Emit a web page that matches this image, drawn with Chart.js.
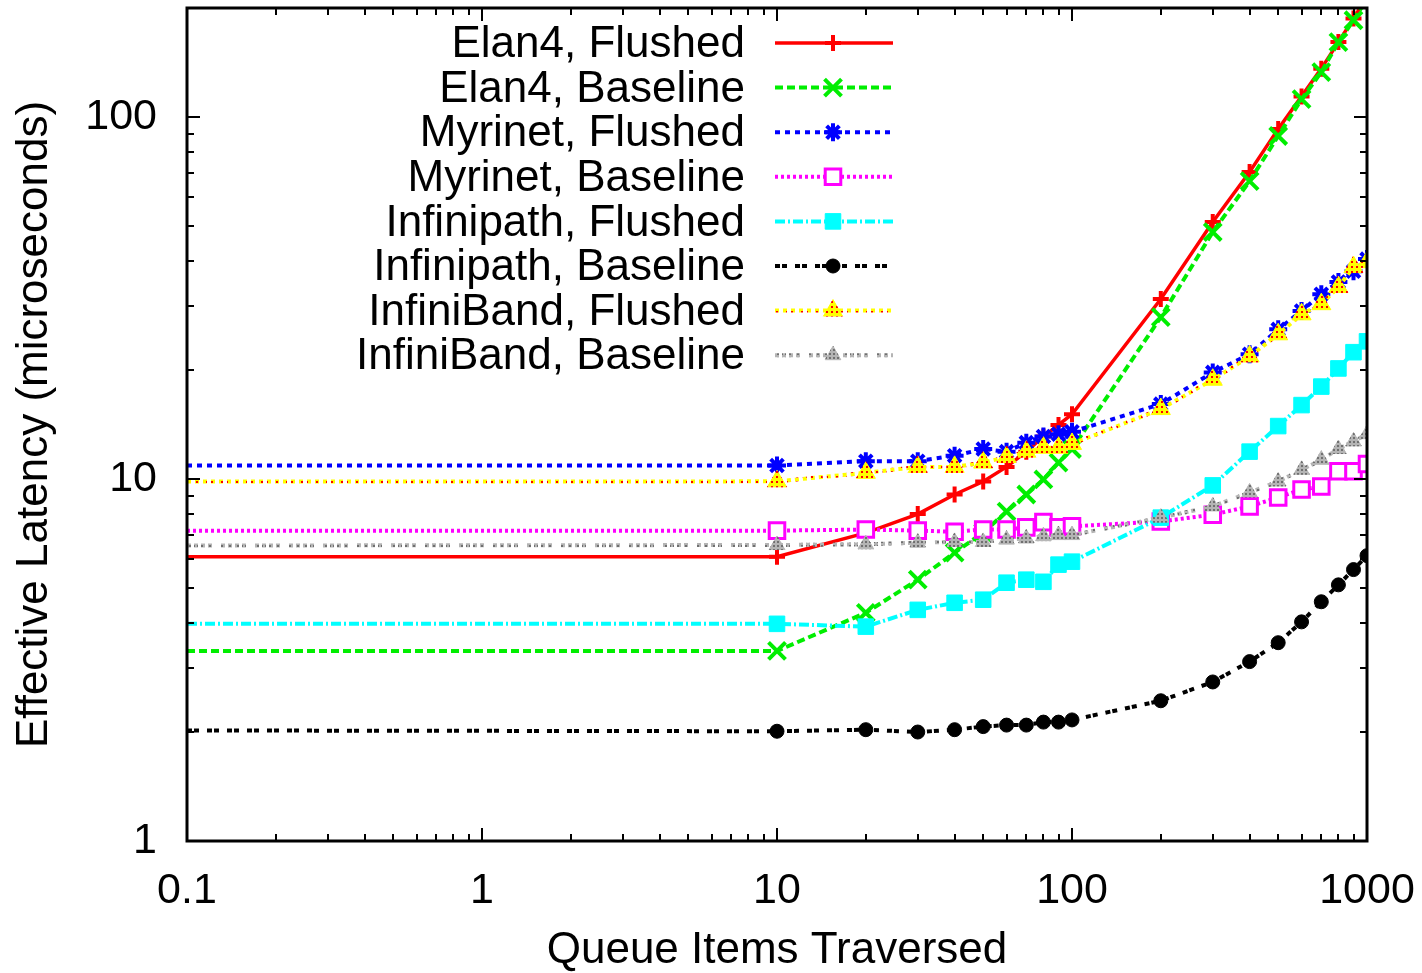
<!DOCTYPE html>
<html>
<head>
<meta charset="utf-8">
<script src="https://cdn.jsdelivr.net/npm/chart.js@4.4.1/dist/chart.umd.min.js"></script>
<style>
  html, body { margin: 0; padding: 0; background: #fff; }
</style>
</head>
<body>
<canvas id="chart" width="1422" height="973"></canvas>
<script>
// queue lengths; the first entry only carries the flat line to the left edge
const queueItems = [0.1, 10, 20, 30, 40, 50, 60, 70, 80, 90, 100, 200, 300, 400, 500, 600, 700, 800, 900, 1000];

const elan4Flushed       = [6.1, 6.1, 7.1, 8.0, 9.06, 9.84, 10.8, 11.9, 13.1, 14.1, 15.1, 31.4, 51.3, 70.5, 92.7, 114, 136, 161, 187, 215];
const elan4Baseline      = [3.35, 3.35, 4.27, 5.27, 6.26, 7.11, 8.13, 9.06, 9.97, 11.1, 12.1, 28.0, 48.1, 66.5, 88.6, 112, 133, 161, 185, 212];
const myrinetFlushed     = [10.9, 10.9, 11.2, 11.2, 11.6, 12.1, 11.9, 12.6, 13.1, 13.3, 13.5, 16.1, 19.7, 22.1, 25.9, 29.1, 32.4, 35.0, 37.5, 40.5];
const myrinetBaseline    = [7.2, 7.2, 7.25, 7.2, 7.15, 7.25, 7.25, 7.35, 7.6, 7.35, 7.4, 7.63, 7.97, 8.4, 8.89, 9.35, 9.53, 10.5, 10.5, 11.0];
const infinipathFlushed  = [3.98, 3.98, 3.91, 4.35, 4.55, 4.64, 5.17, 5.27, 5.2, 5.8, 5.91, 7.82, 9.6, 11.9, 14.0, 16.0, 18.0, 20.2, 22.4, 24.0];
const infinipathBaseline = [2.02, 2.01, 2.03, 2.0, 2.03, 2.07, 2.09, 2.09, 2.13, 2.13, 2.16, 2.44, 2.75, 3.13, 3.53, 4.03, 4.58, 5.1, 5.62, 6.14];
const infinibandFlushed  = [9.84, 9.85, 10.4, 10.8, 10.8, 11.1, 11.5, 11.9, 12.2, 12.2, 12.5, 15.6, 18.8, 21.8, 25.1, 28.5, 30.4, 33.9, 38.5, 39.7];
const infinibandBaseline = [6.55, 6.57, 6.6, 6.67, 6.7, 6.7, 6.8, 6.85, 6.95, 7.0, 7.0, 7.82, 8.4, 9.18, 9.84, 10.6, 11.3, 12.1, 12.7, 13.3];

const xTickValues = [0.1, 1, 10, 100, 1000];
const yTickValues = [1, 10, 100];

const FONT = '"Liberation Sans", Arial, Helvetica, sans-serif';

function dotPattern(bg, dot, size, dotSize) {
    const c = document.createElement('canvas');
    c.width = size; c.height = size;
    const g = c.getContext('2d');
    g.fillStyle = bg;
    g.fillRect(0, 0, size, size);
    g.fillStyle = dot;
    g.fillRect(1, 1, dotSize, dotSize);
    return g.createPattern(c, 'repeat');
}

const yellowDots = dotPattern('#ffff00', '#ff0000', 5, 2);
const grayDots = dotPattern('#b4b4b4', '#707070', 4, 2);

function series(label, data, color, dash, style, radius, opts) {
    return Object.assign({
        label: label,
        data: queueItems.map((q, i) => ({ x: q, y: data[i] })),
        borderColor: color,
        backgroundColor: color,
        borderWidth: 4,
        borderDash: dash,
        pointStyle: style,
        pointBorderColor: color,
        pointBackgroundColor: color,
        pointBorderWidth: 4,
        legendRadius: radius,
        pointRadius: ctx => ctx.dataIndex === 0 ? 0 : radius,
        pointHoverRadius: radius,
        tension: 0,
        fill: false
    }, opts || {});
}

const datasets = [
    series('Elan4, Flushed', elan4Flushed, '#ff0000', [], 'cross', 8, { borderWidth: 3.5 }),
    series('Elan4, Baseline', elan4Baseline, '#00ee00', [8, 4], 'crossRot', 12),
    series('Myrinet, Flushed', myrinetFlushed, '#0000ff', [5, 5], 'star', 9),
    series('Myrinet, Baseline', myrinetBaseline, '#ff00ff', [3, 3], 'rect', 11, { pointBackgroundColor: '#ffffff', pointBorderWidth: 3 }),
    series('Infinipath, Flushed', infinipathFlushed, '#00ffff', [10, 3, 2, 3], 'rect', 11, { pointBorderWidth: 1 }),
    series('Infinipath, Baseline', infinipathBaseline, '#000000', [5, 2, 5, 8], 'circle', 7, { pointBorderWidth: 1 }),
    series('InfiniBand, Flushed', infinibandFlushed, yellowDots, [4, 4], 'triangle', 11, { pointBorderWidth: 1 }),
    series('InfiniBand, Baseline', infinibandBaseline, grayDots, [4, 3, 4, 3, 4, 3, 4, 9], 'triangle', 9, { pointBorderWidth: 1 })
];
// gnuplot draws later curves on top
datasets.forEach((d, i) => { d.order = -i; });

const frameAndTicks = {
    id: 'frameAndTicks',
    afterDatasetsDraw(chart) {
        const { ctx, chartArea: a, scales: { x, y } } = chart;
        ctx.save();
        ctx.strokeStyle = '#000';
        ctx.lineWidth = 2;
        ctx.beginPath();
        for (let d = 0.1; d < 1000; d *= 10) {
            for (let k = 1; k <= 10; k++) {
                const v = d * k;
                const len = (k === 1 || k === 10) ? 13 : 7;
                const px = Math.round(x.getPixelForValue(v));
                ctx.moveTo(px, a.bottom); ctx.lineTo(px, a.bottom - len);
                ctx.moveTo(px, a.top); ctx.lineTo(px, a.top + len);
            }
        }
        for (let d = 1; d <= 100; d *= 10) {
            for (let k = 1; k <= 10; k++) {
                const v = d * k;
                if (v > 200) break;
                const len = (k === 1 || k === 10) ? 13 : 7;
                const py = Math.round(y.getPixelForValue(v));
                ctx.moveTo(a.left, py); ctx.lineTo(a.left + len, py);
                ctx.moveTo(a.right, py); ctx.lineTo(a.right - len, py);
            }
        }
        ctx.stroke();
        ctx.lineWidth = 3;
        ctx.strokeRect(a.left, a.top, a.right - a.left, a.bottom - a.top);
        ctx.restore();
    }
};

const keyBox = {
    id: 'keyBox',
    afterDraw(chart) {
        const ctx = chart.ctx;
        chart.data.datasets.forEach((ds, i) => {
            const yy = 43 + i * 44.6;
            ctx.save();
            ctx.font = '44px ' + FONT;
            ctx.fillStyle = '#000';
            ctx.textAlign = 'right';
            ctx.textBaseline = 'middle';
            ctx.fillText(ds.label, 745, yy + 2);

            ctx.strokeStyle = ds.borderColor;
            ctx.lineWidth = ds.borderWidth;
            ctx.setLineDash(ds.borderDash);
            ctx.beginPath();
            ctx.moveTo(775, yy);
            ctx.lineTo(893, yy);
            ctx.stroke();
            ctx.setLineDash([]);

            ctx.fillStyle = ds.pointBackgroundColor;
            ctx.strokeStyle = ds.pointBorderColor;
            ctx.lineWidth = ds.pointBorderWidth;
            Chart.helpers.drawPoint(ctx, {
                pointStyle: ds.pointStyle,
                radius: ds.legendRadius,
                borderWidth: ds.pointBorderWidth,
                rotation: 0
            }, 833, yy);
            ctx.restore();
        });
    }
};

new Chart(document.getElementById('chart'), {
    type: 'line',
    data: { datasets: datasets },
    options: {
        responsive: false,
        animation: false,
        layout: { autoPadding: false, padding: { top: 8, right: 55, left: 0, bottom: 0 } },
        plugins: {
            legend: { display: false },
            tooltip: { enabled: false }
        },
        scales: {
            x: {
                type: 'logarithmic',
                min: 0.1,
                max: 1000,
                afterBuildTicks: s => { s.ticks = xTickValues.map(v => ({ value: v })); },
                afterFit: s => { s.height = 132; s.paddingLeft = 0; s.paddingRight = 0; },
                grid: { display: false, drawTicks: false },
                border: { display: false },
                ticks: {
                    autoSkip: false,
                    maxRotation: 0,
                    padding: 24,
                    color: '#000',
                    font: { family: FONT, size: 43 },
                    callback: v => String(v)
                },
                title: {
                    display: true,
                    text: 'Queue Items Traversed',
                    color: '#000',
                    font: { family: FONT, size: 44, lineHeight: 1 },
                    padding: 0
                }
            },
            y: {
                type: 'logarithmic',
                min: 1,
                max: 200,
                afterBuildTicks: s => { s.ticks = yTickValues.map(v => ({ value: v })); },
                afterFit: s => { s.width = 187; s.paddingTop = 0; s.paddingBottom = 0; },
                grid: { display: false, drawTicks: false },
                border: { display: false },
                ticks: {
                    autoSkip: false,
                    padding: 30,
                    color: '#000',
                    font: { family: FONT, size: 43 },
                    callback: v => String(v)
                },
                title: {
                    display: true,
                    text: 'Effective Latency (microseconds)',
                    color: '#000',
                    font: { family: FONT, size: 44 },
                    padding: { top: 8, bottom: 0 }
                }
            }
        }
    },
    plugins: [frameAndTicks, keyBox]
});
</script>
</body>
</html>
